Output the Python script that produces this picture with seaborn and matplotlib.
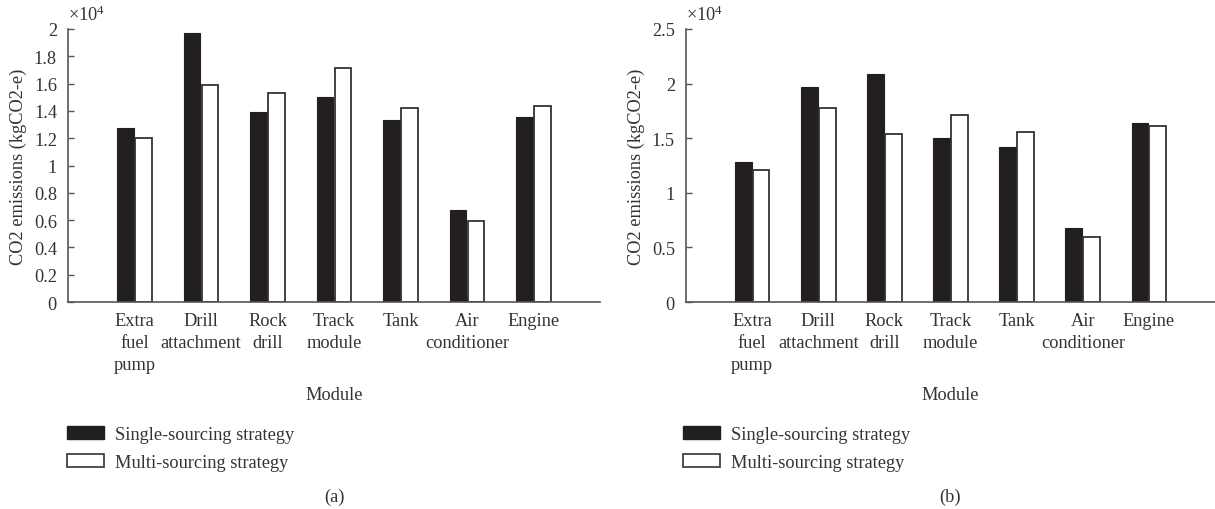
import matplotlib
matplotlib.use("Agg")
import matplotlib.pyplot as plt
import seaborn as sns
import pandas as pd
from matplotlib.patches import Patch
from matplotlib.ticker import FuncFormatter

# ---------------- data (kgCO2-e) ----------------
categories = ["Extra\nfuel\npump", "Drill\nattachment", "Rock\ndrill", "Track\nmodule",
              "Tank", "Air\nconditioner", "Engine"]
strategies = ["Single-sourcing strategy", "Multi-sourcing strategy"]
a_single = [12740, 19710, 13910, 15010, 13330, 6750, 13570]
a_multi = [12030, 15910, 15320, 17150, 14180, 5940, 14350]
b_single = [12790, 19700, 20890, 15040, 14220, 6760, 16350]
b_multi = [12060, 17720, 15350, 17170, 15530, 5940, 16110]
a_ticks = [0, 0.2, 0.4, 0.6, 0.8, 1, 1.2, 1.4, 1.6, 1.8, 2]
b_ticks = [0, 0.5, 1, 1.5, 2, 2.5]
scale = 1e4

sns.set_style("white")
plt.rcParams["font.family"] = ["Liberation Serif", "DejaVu Serif"]
plt.rcParams["mathtext.fontset"] = "custom"
plt.rcParams["mathtext.rm"] = "Liberation Serif"
plt.rcParams["mathtext.it"] = "Liberation Serif"

TXT = "#333333"
AX = "#555555"
FS = 13.2
BLACK = "#231f20"

W, H = 1215, 510
fig = plt.figure(figsize=(W / 100, H / 100), dpi=100)
fig.patch.set_facecolor("white")


def make_df(single, multi):
    rows = []
    for c, s, m in zip(categories, single, multi):
        rows.append({"Module": c, "Strategy": strategies[0], "value": s / scale})
        rows.append({"Module": c, "Strategy": strategies[1], "value": m / scale})
    return pd.DataFrame(rows)


def panel(rect, single, multi, ticks, letter, xcenter):
    ax = fig.add_axes(rect)
    df = make_df(single, multi)
    sns.barplot(data=df, x="Module", y="value", hue="Strategy", order=categories,
                hue_order=strategies, palette=[BLACK, "white"], saturation=1,
                width=0.54, gap=0.06, legend=False, ax=ax, errorbar=None)
    n = len(categories)
    for i, p in enumerate(ax.patches):
        if i < n:
            p.set_edgecolor(BLACK)
            p.set_linewidth(0.8)
        else:
            p.set_edgecolor("#333333")
            p.set_linewidth(1.3)
    ax.set_xlim(-1, n)
    ax.set_ylim(0, ticks[-1])
    ax.set_yticks(ticks)
    ax.yaxis.set_major_formatter(FuncFormatter(lambda v, _: "%g" % v))
    ax.set_xticks(range(n))
    ax.set_xticklabels(categories, linespacing=1.39)
    for s in ["top", "right"]:
        ax.spines[s].set_visible(False)
    for s in ["left", "bottom"]:
        ax.spines[s].set_color(AX)
        ax.spines[s].set_linewidth(1.2)
    ax.tick_params(axis="both", direction="in", length=4, width=1.0, color=AX,
                   labelcolor=TXT, labelsize=FS)
    ax.tick_params(axis="y", pad=8, left=True)
    ax.tick_params(axis="x", pad=7, bottom=True)
    ax.set_xlabel("")
    ax.set_ylabel("CO2 emissions (kgCO2-e)", fontsize=FS, color=TXT)
    ax.yaxis.set_label_coords(-0.077, 0.5)
    ax.text(0.0, 1.055, r"×10$^{4}$", transform=ax.transAxes, fontsize=FS,
            color=TXT, ha="left", va="center")
    fig.text(xcenter / W, 1 - 395 / H, "Module", fontsize=FS, color=TXT,
             ha="center", va="center")
    fig.text(xcenter / W, 1 - 497 / H, letter, fontsize=FS, color=TXT,
             ha="center", va="center")
    return ax


axA = panel([68 / W, 207 / H, 532 / W, 273 / H], a_single, a_multi, a_ticks, "(a)", 334)
axB = panel([686 / W, 207 / H, 529 / W, 273 / H], b_single, b_multi, b_ticks, "(b)", 950)

handles = [Patch(facecolor=BLACK, edgecolor=BLACK),
           Patch(facecolor="white", edgecolor="#333333", linewidth=1.2)]
for x0 in (67, 683):
    fig.legend(handles, strategies, loc="upper left",
               bbox_to_anchor=(x0 / W, 1 - 427 / H), frameon=False,
               borderaxespad=0, borderpad=0, handlelength=2.0, handleheight=0.7,
               handletextpad=0.6, labelspacing=0.6, fontsize=FS, labelcolor=TXT)

fig.savefig("out.png", dpi=100, facecolor="white")
